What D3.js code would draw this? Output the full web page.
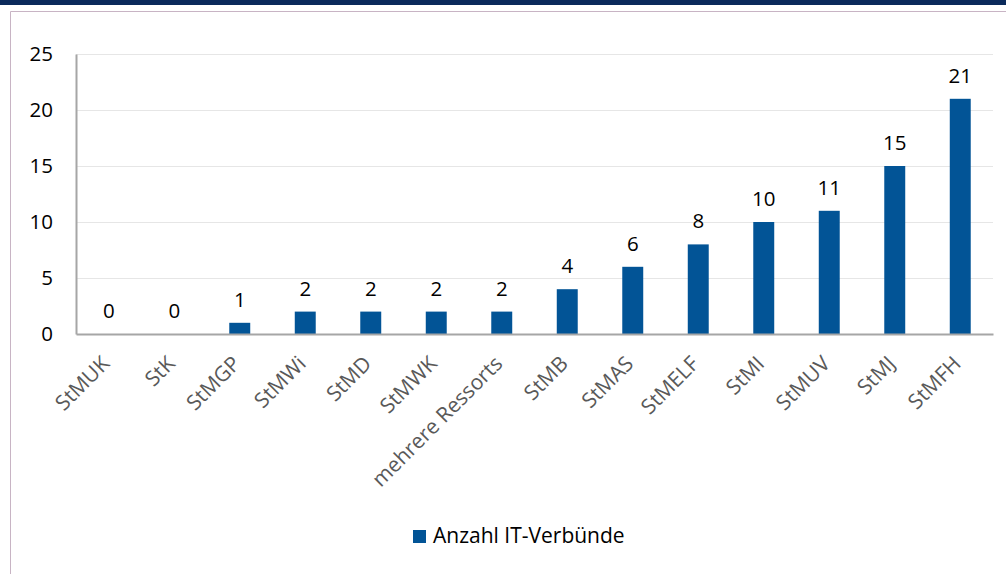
<!DOCTYPE html>
<html><head><meta charset="utf-8">
<script src="https://cdn.jsdelivr.net/npm/d3@7"></script>
<style>body{margin:0;background:#fff;}svg{display:block;}svg text{font-family:"Open Sans",sans-serif;}</style>
</head><body>
<svg id="c" width="1006" height="574"></svg>
<script>
const categories = ["StMUK","StK","StMGP","StMWi","StMD","StMWK","mehrere Ressorts","StMB","StMAS","StMELF","StMI","StMUV","StMJ","StMFH"];
const values = [0,0,1,2,2,2,2,4,6,8,10,11,15,21];
const yTicks = [0,5,10,15,20,25];
const seriesName = "Anzahl IT-Verbünde";

const svg = d3.select("#c");
svg.append("rect").attr("x",0).attr("y",0).attr("width",1006).attr("height",5).attr("fill","#0b2a5b");
svg.append("path").attr("d","M10.5,574 V11.5 H1006").attr("fill","none").attr("stroke","#c8b4c4").attr("stroke-width",1);

const m = {l:76, r:993, t:54, b:334};
const x = d3.scaleBand().domain(categories).range([m.l, m.r]).paddingInner(0.68).paddingOuter(0.34);
const y = d3.scaleLinear().domain([0,25]).range([m.b, m.t]);

// gridlines
svg.append("g").selectAll("line").data(yTicks.filter(d=>d>0)).join("line")
  .attr("x1",m.l).attr("x2",m.r).attr("y1",d=>Math.round(y(d))+0.5).attr("y2",d=>Math.round(y(d))+0.5)
  .attr("stroke","#e6e6e6").attr("stroke-width",1);

// y axis
const ya = svg.append("g").attr("transform",`translate(${m.l},0)`).call(d3.axisLeft(y).tickValues(yTicks).tickSize(0).tickPadding(23));
ya.attr("font-family",null);
ya.select(".domain").attr("stroke","#a6a6a6").attr("stroke-width",2);
ya.selectAll("text").attr("font-size",20.5).attr("fill","#000");

// bars
svg.append("g").selectAll("rect").data(values).join("rect")
  .attr("x",(d,i)=>x(categories[i])).attr("width",x.bandwidth())
  .attr("y",d=>y(d)).attr("height",d=>y(0)-y(d)).attr("fill","#025496");

// value labels
svg.append("g").selectAll("text").data(values).join("text")
  .attr("x",(d,i)=>x(categories[i])+x.bandwidth()/2).attr("y",d=>y(d)-16)
  .attr("text-anchor","middle").attr("font-size",20.5).attr("fill","#000").text(d=>d);

// x axis
const xa = svg.append("g").attr("transform",`translate(0,${m.b})`).call(d3.axisBottom(x).tickSize(0).tickPadding(0));
xa.attr("font-family",null);
xa.select(".domain").attr("stroke","#a6a6a6").attr("stroke-width",2);
xa.selectAll("text").attr("font-size",21).attr("fill","#595959")
  .attr("text-anchor","end").attr("dy",0).attr("transform","translate(2,31) rotate(-45)");

// legend
const lg = svg.append("g").attr("transform","translate(413,530)");
lg.append("rect").attr("width",13).attr("height",13).attr("fill","#025496");
lg.append("text").attr("x",20).attr("y",13).attr("font-size",21).attr("fill","#000").text(seriesName);
</script>
</body></html>
